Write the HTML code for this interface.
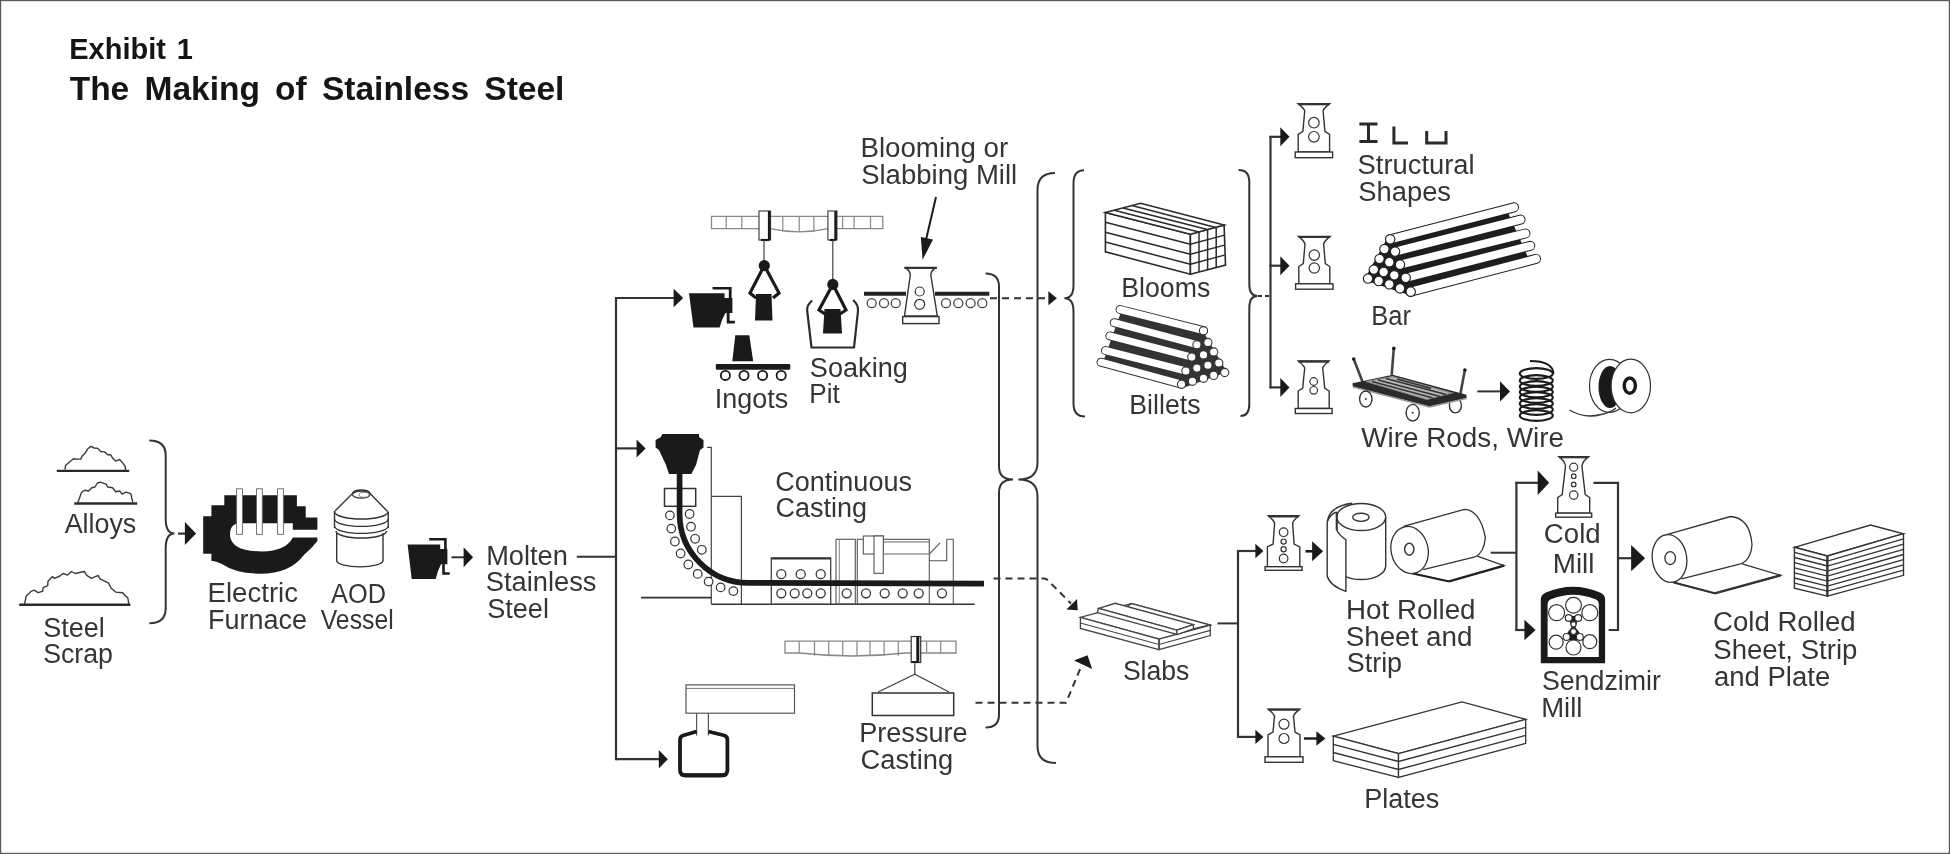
<!DOCTYPE html>
<html><head><meta charset="utf-8"><title>The Making of Stainless Steel</title>
<style>
html,body{margin:0;padding:0;background:#fff;}
svg{display:block;font-family:"Liberation Sans",sans-serif;filter:grayscale(1);}
</style></head>
<body>
<svg width="1950" height="854" viewBox="0 0 1950 854">
<rect x="0.5" y="0.5" width="1949" height="853" fill="#fff" stroke="#575b5d" stroke-width="1.4"/>
<text x="69.30" y="58.7" font-size="29.5" font-weight="bold" word-spacing="3" textLength="123.70" lengthAdjust="spacingAndGlyphs" fill="#151515">Exhibit 1</text>
<text x="69.70" y="99.6" font-size="34" font-weight="bold" word-spacing="6" textLength="494.70" lengthAdjust="spacingAndGlyphs" fill="#151515">The Making of Stainless Steel</text>
<path d="M65.1 469.5 L65.5 465.5 L68.7 462.7 L73.5 458.7 L77.5 459.1 L80.7 459.1 L82.3 455.9 L85.4 452.7 L87.8 448.8 L91 446.4 L94.2 448 L97.8 448.4 L100.6 451.5 L104.5 451.9 L107.7 454.7 L110.5 454.7 L112.5 457.9 L115.7 461.1 L119.7 459.5 L122.9 463.1 L125.2 466.3 L125.6 469.9" stroke="#3a3a3a" stroke-width="1.4" fill="none" stroke-linejoin="round"/>
<line x1="56.8" y1="470.9" x2="129.2" y2="470.9" stroke="#2a2a2a" stroke-width="2.4"/>
<path d="M77.9 502.5 L81.5 492.5 L84.6 490.2 L88.6 491 L91.8 487.8 L95 487 L97.4 483 L100.6 482.2 L103.8 483.4 L106.1 484.2 L107.7 487 L112.5 487.8 L115.7 491.8 L119.7 491 L122.1 494.1 L126 492.2 L130.8 493.7 L132 499 L132.8 502.1" stroke="#3a3a3a" stroke-width="1.4" fill="none" stroke-linejoin="round"/>
<line x1="74.3" y1="503.5" x2="137.2" y2="503.5" stroke="#2a2a2a" stroke-width="2.4"/>
<path d="M24.6 604.2 L26.2 595.9 L31 591.4 L34.2 590.1 L38.1 592.7 L42.6 591.4 L43.2 587.6 L47.7 585.6 L48 581.2 L52.2 576.7 L54.7 578.3 L59.9 576 L63.1 573.5 L67.6 575.1 L71.4 571.5 L75.3 573.5 L84.2 571.5 L86.8 575.4 L91.3 578.3 L98.3 575.4 L99.6 578.6 L108.6 583.1 L111.2 588.2 L115.6 592.1 L122.7 592.7 L125.3 595.9 L127.8 597.8 L128.8 604.2" stroke="#3a3a3a" stroke-width="1.4" fill="none" stroke-linejoin="round"/>
<line x1="19.2" y1="604.8" x2="130.4" y2="604.8" stroke="#2a2a2a" stroke-width="2.4"/>
<text x="64.66" y="532.6" font-size="26.8" textLength="71.60" lengthAdjust="spacingAndGlyphs" fill="#353535">Alloys</text>
<text x="43.15" y="637" font-size="26.8" textLength="61.55" lengthAdjust="spacingAndGlyphs" fill="#353535">Steel</text>
<text x="43.15" y="662.5" font-size="26.8" textLength="69.85" lengthAdjust="spacingAndGlyphs" fill="#353535">Scrap</text>
<path d="M149.4 440.5 Q165.7 440.5 165.7 455.5 L165.7 518.6 Q165.7 533.6 174.4 533.6 Q165.7 533.6 165.7 548.6 L165.7 608.2 Q165.7 623.2 149.4 623.2" stroke="#333" stroke-width="2" fill="none"/>
<line x1="178" y1="533.6" x2="185.5" y2="533.6" stroke="#333" stroke-width="2.2"/>
<polygon points="196.1,533.6 184.9,545.1 184.9,522.1" fill="#1a1a1a" stroke="none" stroke-width="0"/>
<path d="M224.3 495.2 H296.9 V506.3 H305.7 V517.5 H317.4 V529.8 H292.8 V523.3 H240 Q229.5 523.3 230 536 Q232 551.4 262 551.4 Q286 551 292.8 537.4 H317.4 V541 Q312 548 303.9 555 Q290 573.7 260.6 573.7 Q236 573.7 222 564 Q216 561 211.4 560.8 V553.8 H203.2 V516.3 H211.4 V505.2 H224.3 Z" fill="#1a1a1a"/>
<rect x="236.6" y="488.8" width="5.8" height="45.6" stroke="#666" stroke-width="0.9" fill="#fff"/>
<rect x="256.5" y="488.8" width="5.8" height="45.6" stroke="#666" stroke-width="0.9" fill="#fff"/>
<rect x="277.6" y="488.8" width="5.8" height="45.6" stroke="#666" stroke-width="0.9" fill="#fff"/>
<text x="207.60" y="602.2" font-size="26.8" textLength="90.40" lengthAdjust="spacingAndGlyphs" fill="#353535">Electric</text>
<text x="207.97" y="628.5" font-size="26.8" textLength="99.03" lengthAdjust="spacingAndGlyphs" fill="#353535">Furnace</text>
<path d="M336.7 533 V560.8 A23.2 6.5 0 0 0 383 560.8 V533" stroke="#333" stroke-width="1.4" fill="#fff"/>
<path d="M335 511 L352.5 493.5 A8.8 3.5 0 0 1 370.1 493.5 L387.5 511.5" stroke="#333" stroke-width="1.4" fill="#fff"/>
<path d="M334.5 511 V528 M388.2 511.5 V528" stroke="#333" stroke-width="1.4" fill="none"/>
<path d="M334.5 512 A26.9 7.5 0 0 0 388.2 512" stroke="#333" stroke-width="1.4" fill="#fff"/>
<path d="M334.5 519.3 A26.9 7.5 0 0 0 388.2 519.3" stroke="#333" stroke-width="1.4" fill="none"/>
<path d="M334.5 526.3 A26.9 7.5 0 0 0 388.2 526.3" stroke="#333" stroke-width="1.4" fill="none"/>
<path d="M336 531 A25.2 7 0 0 0 386.5 531" stroke="#333" stroke-width="1.4" fill="none"/>
<ellipse cx="361.3" cy="494.6" rx="8.8" ry="3.5" stroke="#333" stroke-width="1.2" fill="#fff"/>
<ellipse cx="364" cy="494.8" rx="5" ry="2.5" stroke="#666" stroke-width="0.8" fill="#fff"/>
<text x="331.07" y="602.5" font-size="26.8" textLength="54.93" lengthAdjust="spacingAndGlyphs" fill="#353535">AOD</text>
<text x="320.70" y="628.8" font-size="26.8" textLength="73.00" lengthAdjust="spacingAndGlyphs" fill="#353535">Vessel</text>
<g transform="translate(407.6 538) scale(1)">
<polygon points="0,6.4 32.6,6.4 32.6,11 39.8,11 39.8,26.3 33.4,26.3 30.4,33 28.1,41 4.1,41" fill="#1a1a1a" stroke="none" stroke-width="0"/>
<path d="M21.6 1.2 H37.8 V11" stroke="#1a1a1a" stroke-width="2.6" fill="none"/>
<path d="M35.9 26 V35.5 H42.1" stroke="#1a1a1a" stroke-width="2.6" fill="none"/>
</g>
<line x1="451.5" y1="557.3" x2="464.5" y2="557.3" stroke="#333" stroke-width="2"/>
<polygon points="473.1,557.3 463.6,567.3 463.6,547.3" fill="#1a1a1a" stroke="none" stroke-width="0"/>
<text x="486.23" y="564.5" font-size="26.8" textLength="81.58" lengthAdjust="spacingAndGlyphs" fill="#353535">Molten</text>
<text x="485.82" y="591.2" font-size="26.8" textLength="110.66" lengthAdjust="spacingAndGlyphs" fill="#353535">Stainless</text>
<text x="487.26" y="617.9" font-size="26.8" textLength="61.66" lengthAdjust="spacingAndGlyphs" fill="#353535">Steel</text>
<line x1="576.8" y1="556.7" x2="616.5" y2="556.7" stroke="#333" stroke-width="2"/>
<line x1="616" y1="297" x2="616" y2="760.2" stroke="#333" stroke-width="2.2"/>
<path d="M616 298 H674" stroke="#333" stroke-width="2.2" fill="none"/>
<polygon points="683.2,298 673.6,307.3 673.6,288.7" fill="#1a1a1a" stroke="none" stroke-width="0"/>
<path d="M616 448.4 H637" stroke="#333" stroke-width="2.2" fill="none"/>
<polygon points="645.6,448.4 636.6,457.4 636.6,439.4" fill="#1a1a1a" stroke="none" stroke-width="0"/>
<path d="M616 759.2 H659" stroke="#333" stroke-width="2.2" fill="none"/>
<polygon points="667.8,759.2 658.8,768.4 658.8,750" fill="#1a1a1a" stroke="none" stroke-width="0"/>
<g transform="translate(689 287) scale(1.09 0.99)">
<polygon points="0,6.4 32.6,6.4 32.6,11 39.8,11 39.8,26.3 33.4,26.3 30.4,33 28.1,41 4.1,41" fill="#1a1a1a" stroke="none" stroke-width="0"/>
<path d="M21.6 1.2 H37.8 V11" stroke="#1a1a1a" stroke-width="2.6" fill="none"/>
<path d="M35.9 26 V35.5 H42.1" stroke="#1a1a1a" stroke-width="2.6" fill="none"/>
</g>
<path d="M711.5 216.4 H882.8 V228.7 L828 228.7 Q799 235.1 770 228.7 L711.5 228.7 V216.4 Z" stroke="#888" stroke-width="1.3" fill="#fff"/>
<line x1="726.2" y1="216.4" x2="726.2" y2="228.7" stroke="#888" stroke-width="1.2"/>
<line x1="741.8" y1="216.4" x2="741.8" y2="228.7" stroke="#888" stroke-width="1.2"/>
<line x1="782.8" y1="216.4" x2="782.8" y2="231.6" stroke="#888" stroke-width="1.2"/>
<line x1="799.2" y1="216.4" x2="799.2" y2="231.6" stroke="#888" stroke-width="1.2"/>
<line x1="813.9" y1="216.4" x2="813.9" y2="231.6" stroke="#888" stroke-width="1.2"/>
<line x1="842.6" y1="216.4" x2="842.6" y2="228.7" stroke="#888" stroke-width="1.2"/>
<line x1="854.1" y1="216.4" x2="854.1" y2="228.7" stroke="#888" stroke-width="1.2"/>
<line x1="870.5" y1="216.4" x2="870.5" y2="228.7" stroke="#888" stroke-width="1.2"/>
<rect x="759" y="211" width="11.5" height="29" stroke="#444" stroke-width="1.2" fill="#fff"/>
<line x1="769.2" y1="211" x2="769.2" y2="240" stroke="#1a1a1a" stroke-width="2.6"/>
<line x1="761" y1="240" x2="769.2" y2="240" stroke="#1a1a1a" stroke-width="2.2"/>
<rect x="827.9" y="211" width="9" height="29" stroke="#444" stroke-width="1.2" fill="#fff"/>
<line x1="835.6" y1="211" x2="835.6" y2="240" stroke="#1a1a1a" stroke-width="2.6"/>
<line x1="829.9" y1="240" x2="835.6" y2="240" stroke="#1a1a1a" stroke-width="2.2"/>
<line x1="764" y1="240" x2="764" y2="262" stroke="#444" stroke-width="1.2"/>
<circle cx="764.3" cy="265.6" r="5.6" stroke="none" stroke-width="0" fill="#1a1a1a"/>
<path d="M764 266 L750 293 L756 298 M764.6 266 L779 293 L773 298" stroke="#1a1a1a" stroke-width="3.2" fill="none"/>
<polygon points="756,294 771.5,294 772.5,320.5 755,320.5" fill="#1a1a1a" stroke="none" stroke-width="0"/>
<line x1="832.8" y1="240" x2="832.8" y2="280" stroke="#444" stroke-width="1.2"/>
<circle cx="832.8" cy="284.4" r="5.6" stroke="none" stroke-width="0" fill="#1a1a1a"/>
<path d="M832.5 285 L819 310 L825 314 M833.2 285 L846 310 L840 314" stroke="#1a1a1a" stroke-width="3.2" fill="none"/>
<polygon points="824.5,309 840.5,309 842,333.6 823,333.6" fill="#1a1a1a" stroke="none" stroke-width="0"/>
<path d="M812.2 300.5 Q806.5 305 807.2 311 L811.5 347.5 H854 L858 311 Q858.6 305 853.1 300" stroke="#2a2a2a" stroke-width="2.2" fill="none"/>
<polygon points="735.3,335.3 749.3,335.3 753.2,361.2 732.3,361.2" fill="#1a1a1a" stroke="none" stroke-width="0"/>
<rect x="715.8" y="364.1" width="74.5" height="5.6" stroke="none" stroke-width="0" fill="#1a1a1a" rx="1.2"/>
<circle cx="725.4" cy="375.4" r="4.6" stroke="#1a1a1a" stroke-width="1.8" fill="#fff"/>
<circle cx="744" cy="375.4" r="4.6" stroke="#1a1a1a" stroke-width="1.8" fill="#fff"/>
<circle cx="762.6" cy="375.4" r="4.6" stroke="#1a1a1a" stroke-width="1.8" fill="#fff"/>
<circle cx="781.2" cy="375.4" r="4.6" stroke="#1a1a1a" stroke-width="1.8" fill="#fff"/>
<text x="714.71" y="407.5" font-size="26.8" textLength="73.40" lengthAdjust="spacingAndGlyphs" fill="#353535">Ingots</text>
<text x="809.89" y="376.8" font-size="26.8" textLength="97.92" lengthAdjust="spacingAndGlyphs" fill="#353535">Soaking</text>
<text x="809.23" y="402.5" font-size="26.8" textLength="30.48" lengthAdjust="spacingAndGlyphs" fill="#353535">Pit</text>
<text x="860.45" y="156.8" font-size="26.8" textLength="147.70" lengthAdjust="spacingAndGlyphs" fill="#353535">Blooming or</text>
<text x="861.15" y="184" font-size="26.8" textLength="156.07" lengthAdjust="spacingAndGlyphs" fill="#353535">Slabbing Mill</text>
<line x1="936" y1="197" x2="925.5" y2="242" stroke="#1a1a1a" stroke-width="2"/>
<polygon points="922.6,259.8 920.8,237 933,239.4" fill="#1a1a1a" stroke="none" stroke-width="0"/>
<line x1="864" y1="293.8" x2="906" y2="293.8" stroke="#222" stroke-width="4"/>
<line x1="935" y1="293.8" x2="989.3" y2="293.8" stroke="#222" stroke-width="4"/>
<circle cx="871.7" cy="303.2" r="4.5" stroke="#444" stroke-width="1.3" fill="#fff"/>
<circle cx="884" cy="303.2" r="4.5" stroke="#444" stroke-width="1.3" fill="#fff"/>
<circle cx="895.7" cy="303.2" r="4.5" stroke="#444" stroke-width="1.3" fill="#fff"/>
<circle cx="946" cy="303.2" r="4.5" stroke="#444" stroke-width="1.3" fill="#fff"/>
<circle cx="958.3" cy="303.2" r="4.5" stroke="#444" stroke-width="1.3" fill="#fff"/>
<circle cx="970.6" cy="303.2" r="4.5" stroke="#444" stroke-width="1.3" fill="#fff"/>
<circle cx="982.3" cy="303.2" r="4.5" stroke="#444" stroke-width="1.3" fill="#fff"/>
<path d="M904.5 267.5 H936.7 Q931 270 930.8 275 L937.3 316 H904.5 L910.3 275 Q910 270 904.5 267.5 Z" stroke="#333" stroke-width="1.4" fill="#fff"/>
<line x1="904.5" y1="268" x2="936.7" y2="268" stroke="#333" stroke-width="2.2"/>
<rect x="902.7" y="316.6" width="36.3" height="7" stroke="#333" stroke-width="1.4" fill="#fff"/>
<circle cx="919.7" cy="291.5" r="4.5" stroke="#333" stroke-width="1.2" fill="#fff"/>
<circle cx="919.7" cy="304.3" r="5" stroke="#333" stroke-width="1.2" fill="#fff"/>
<line x1="990" y1="298.2" x2="1048" y2="298.2" stroke="#333" stroke-width="2" stroke-dasharray="7 5"/>
<polygon points="1056.9,298.2 1048.4,305.2 1048.4,291.2" fill="#1a1a1a" stroke="none" stroke-width="0"/>
<path d="M985.6 273.4 Q999 273.4 999 286.4 L999 466.4 Q999 479.4 1013 479.4 Q999 479.4 999 492.4 L999 714.5 Q999 727.5 985.6 727.5" stroke="#333" stroke-width="2" fill="none"/>
<path d="M1055 173 Q1037.5 173 1037.5 190 L1037.5 462.4 Q1037.5 479.4 1018.4 479.4 Q1037.5 479.4 1037.5 496.4 L1037.5 746 Q1037.5 763 1056 763" stroke="#333" stroke-width="2" fill="none"/>
<path d="M1084 170.3 Q1073.5 170.3 1073.5 183.3 L1073.5 285.2 Q1073.5 298.2 1064.4 298.2 Q1073.5 298.2 1073.5 311.2 L1073.5 403.6 Q1073.5 416.6 1085 416.6" stroke="#333" stroke-width="2" fill="none"/>
<path d="M1238.6 170 Q1249.3 170 1249.3 182 L1249.3 284.1 Q1249.3 296.1 1257.5 296.1 Q1249.3 296.1 1249.3 308.1 L1249.3 404 Q1249.3 416 1240.5 416" stroke="#333" stroke-width="2" fill="none"/>
<line x1="1258" y1="296.1" x2="1270.4" y2="296.1" stroke="#333" stroke-width="2" stroke-dasharray="4 3"/>
<polygon points="1105.4,212.5 1190.4,234.2 1190.4,274.3 1105.4,251.8" fill="#fff" stroke="#2a2a2a" stroke-width="1.6"/>
<polygon points="1190.4,234.2 1224.1,225.1 1225.5,265.1 1190.4,274.3" fill="#fff" stroke="#2a2a2a" stroke-width="1.6"/>
<polygon points="1105.4,212.5 1140.6,203.3 1224.1,225.1 1190.4,234.2" fill="#fff" stroke="#2a2a2a" stroke-width="1.6"/>
<line x1="1105.4" y1="222.3" x2="1190.4" y2="244.2" stroke="#2a2a2a" stroke-width="1.5"/>
<line x1="1190.4" y1="244.2" x2="1224.5" y2="235.1" stroke="#2a2a2a" stroke-width="1.5"/>
<line x1="1199" y1="231.9" x2="1199" y2="272" stroke="#2a2a2a" stroke-width="1.5"/>
<line x1="1114.2" y1="210.2" x2="1198.9" y2="231.9" stroke="#2a2a2a" stroke-width="1.5"/>
<line x1="1105.4" y1="232.2" x2="1190.4" y2="254.3" stroke="#2a2a2a" stroke-width="1.5"/>
<line x1="1190.4" y1="254.3" x2="1224.5" y2="245.1" stroke="#2a2a2a" stroke-width="1.5"/>
<line x1="1207.6" y1="229.6" x2="1207.6" y2="269.7" stroke="#2a2a2a" stroke-width="1.5"/>
<line x1="1123" y1="207.9" x2="1207.3" y2="229.6" stroke="#2a2a2a" stroke-width="1.5"/>
<line x1="1105.4" y1="242" x2="1190.4" y2="264.3" stroke="#2a2a2a" stroke-width="1.5"/>
<line x1="1190.4" y1="264.3" x2="1224.5" y2="255.1" stroke="#2a2a2a" stroke-width="1.5"/>
<line x1="1216.2" y1="227.4" x2="1216.2" y2="267.4" stroke="#2a2a2a" stroke-width="1.5"/>
<line x1="1131.8" y1="205.6" x2="1215.8" y2="227.4" stroke="#2a2a2a" stroke-width="1.5"/>
<text x="1121.30" y="297.4" font-size="26.8" textLength="88.96" lengthAdjust="spacingAndGlyphs" fill="#353535">Blooms</text>
<polygon points="1121,312 1204,333 1227,372 1183,388 1102,365" fill="#333" stroke="none" stroke-width="0"/>
<line x1="1120" y1="309.5" x2="1203.5" y2="330.7" stroke="#333" stroke-width="9" stroke-linecap="round"/>
<line x1="1120" y1="309.5" x2="1203.5" y2="330.7" stroke="#fff" stroke-width="7" stroke-linecap="round"/>
<line x1="1114.2" y1="322.7" x2="1196.9" y2="344.7" stroke="#333" stroke-width="9" stroke-linecap="round"/>
<line x1="1114.2" y1="322.7" x2="1196.9" y2="344.7" stroke="#fff" stroke-width="7" stroke-linecap="round"/>
<line x1="1109.8" y1="335.9" x2="1191.8" y2="357.1" stroke="#333" stroke-width="9" stroke-linecap="round"/>
<line x1="1109.8" y1="335.9" x2="1191.8" y2="357.1" stroke="#fff" stroke-width="7" stroke-linecap="round"/>
<line x1="1105.4" y1="350.5" x2="1185.9" y2="371" stroke="#333" stroke-width="9" stroke-linecap="round"/>
<line x1="1105.4" y1="350.5" x2="1185.9" y2="371" stroke="#fff" stroke-width="7" stroke-linecap="round"/>
<line x1="1101" y1="362.2" x2="1181.5" y2="384.2" stroke="#333" stroke-width="9" stroke-linecap="round"/>
<line x1="1101" y1="362.2" x2="1181.5" y2="384.2" stroke="#fff" stroke-width="7" stroke-linecap="round"/>
<circle cx="1203.5" cy="330.7" r="4.1" stroke="#333" stroke-width="1.1" fill="#fff"/>
<circle cx="1196.9" cy="344.7" r="4.1" stroke="#333" stroke-width="1.1" fill="#fff"/>
<circle cx="1191.8" cy="357.1" r="4.1" stroke="#333" stroke-width="1.1" fill="#fff"/>
<circle cx="1185.9" cy="371" r="4.1" stroke="#333" stroke-width="1.1" fill="#fff"/>
<circle cx="1181.5" cy="384.2" r="4.1" stroke="#333" stroke-width="1.1" fill="#fff"/>
<circle cx="1207.9" cy="342.5" r="4.1" stroke="#333" stroke-width="1.1" fill="#fff"/>
<circle cx="1203.5" cy="354.9" r="4.1" stroke="#333" stroke-width="1.1" fill="#fff"/>
<circle cx="1196.9" cy="368.1" r="4.1" stroke="#333" stroke-width="1.1" fill="#fff"/>
<circle cx="1192.5" cy="381.3" r="4.1" stroke="#333" stroke-width="1.1" fill="#fff"/>
<circle cx="1213.7" cy="352" r="4.1" stroke="#333" stroke-width="1.1" fill="#fff"/>
<circle cx="1207.9" cy="365.2" r="4.1" stroke="#333" stroke-width="1.1" fill="#fff"/>
<circle cx="1203.5" cy="378.3" r="4.1" stroke="#333" stroke-width="1.1" fill="#fff"/>
<circle cx="1218.8" cy="363" r="4.1" stroke="#333" stroke-width="1.1" fill="#fff"/>
<circle cx="1213.7" cy="375.4" r="4.1" stroke="#333" stroke-width="1.1" fill="#fff"/>
<circle cx="1224.7" cy="372.5" r="4.1" stroke="#333" stroke-width="1.1" fill="#fff"/>
<text x="1129.30" y="414.2" font-size="26.8" textLength="71.22" lengthAdjust="spacingAndGlyphs" fill="#353535">Billets</text>
<line x1="1270.5" y1="136" x2="1270.5" y2="388.3" stroke="#333" stroke-width="2.2"/>
<line x1="1269.5" y1="136.8" x2="1281" y2="136.8" stroke="#333" stroke-width="2.2"/>
<polygon points="1289.5,136.8 1280.3,146.3 1280.3,127.3" fill="#1a1a1a" stroke="none" stroke-width="0"/>
<line x1="1269.5" y1="265.7" x2="1281" y2="265.7" stroke="#333" stroke-width="2.2"/>
<polygon points="1289.5,265.7 1280.3,275.2 1280.3,256.2" fill="#1a1a1a" stroke="none" stroke-width="0"/>
<line x1="1269.5" y1="387.4" x2="1281" y2="387.4" stroke="#333" stroke-width="2.2"/>
<polygon points="1289.5,387.4 1280.3,396.9 1280.3,377.9" fill="#1a1a1a" stroke="none" stroke-width="0"/>
<path d="M1298.2 103.6 H1329.6 Q1323.9 108.1 1323.1 111 L1324.9 131.3 L1329.6 134.3 V152 H1298.2 V134.3 L1302.9 131.3 L1304.7 111 Q1303.9 108.1 1298.2 103.6 Z" stroke="#333" stroke-width="1.4" fill="#fff"/>
<line x1="1298.2" y1="104.2" x2="1329.6" y2="104.2" stroke="#333" stroke-width="2.2"/>
<rect x="1295.2" y="152" width="37.4" height="5.7" stroke="#333" stroke-width="1.4" fill="#fff"/>
<circle cx="1313.9" cy="122.7" r="5.3" stroke="#333" stroke-width="1.2" fill="#fff"/>
<circle cx="1313.9" cy="136.8" r="5.3" stroke="#333" stroke-width="1.2" fill="#fff"/>
<path d="M1298.5 236.4 H1330.1 Q1324.4 240.9 1323.6 244 L1325.3 263.5 L1329.8 266.5 V283.8 H1298.8 V266.5 L1303.3 263.5 L1305 244 Q1304.2 240.9 1298.5 236.4 Z" stroke="#333" stroke-width="1.4" fill="#fff"/>
<line x1="1298.5" y1="237" x2="1330.1" y2="237" stroke="#333" stroke-width="2.2"/>
<rect x="1295.6" y="283.8" width="37.4" height="5.4" stroke="#333" stroke-width="1.4" fill="#fff"/>
<circle cx="1314.3" cy="255.1" r="5.2" stroke="#333" stroke-width="1.2" fill="#fff"/>
<circle cx="1314.3" cy="268" r="5.2" stroke="#333" stroke-width="1.2" fill="#fff"/>
<path d="M1298.4 361 H1329 Q1323.5 365.5 1322.7 368 L1324.7 388 L1329.2 391 V408.5 H1298.2 V391 L1302.7 388 L1304.7 368 Q1303.9 365.5 1298.4 361 Z" stroke="#333" stroke-width="1.4" fill="#fff"/>
<line x1="1298.4" y1="361.6" x2="1329" y2="361.6" stroke="#333" stroke-width="2.2"/>
<rect x="1295.3" y="408.5" width="36.8" height="5" stroke="#333" stroke-width="1.4" fill="#fff"/>
<circle cx="1313.7" cy="381.5" r="3.8" stroke="#333" stroke-width="1.2" fill="#fff"/>
<circle cx="1313.7" cy="390.3" r="3.8" stroke="#333" stroke-width="1.2" fill="#fff"/>
<path d="M1359.4 124 H1377.5 M1368.5 124 V141.6 M1359.4 141.6 H1377.5" stroke="#2a2a2a" stroke-width="3" fill="none"/>
<path d="M1393.9 126.4 V143 H1408" stroke="#2a2a2a" stroke-width="3" fill="none"/>
<path d="M1426.7 131 V143 H1446 V131" stroke="#2a2a2a" stroke-width="3" fill="none"/>
<text x="1357.56" y="173.8" font-size="26.8" textLength="117.10" lengthAdjust="spacingAndGlyphs" fill="#353535">Structural</text>
<text x="1358.30" y="200.7" font-size="26.8" textLength="92.70" lengthAdjust="spacingAndGlyphs" fill="#353535">Shapes</text>
<polygon points="1364,280 1389,235 1505,206 1528,257 1412,296" fill="#1e1e1e" stroke="none" stroke-width="0"/>
<line x1="1390.2" y1="239.3" x2="1514" y2="207.3" stroke="#1e1e1e" stroke-width="10" stroke-linecap="round"/>
<line x1="1390.2" y1="239.3" x2="1514" y2="207.3" stroke="#fff" stroke-width="8" stroke-linecap="round"/>
<line x1="1395.1" y1="251.6" x2="1520.5" y2="219.6" stroke="#1e1e1e" stroke-width="10" stroke-linecap="round"/>
<line x1="1395.1" y1="251.6" x2="1520.5" y2="219.6" stroke="#fff" stroke-width="8" stroke-linecap="round"/>
<line x1="1400" y1="264.7" x2="1525.4" y2="233.5" stroke="#1e1e1e" stroke-width="10" stroke-linecap="round"/>
<line x1="1400" y1="264.7" x2="1525.4" y2="233.5" stroke="#fff" stroke-width="8" stroke-linecap="round"/>
<line x1="1405.7" y1="277.8" x2="1530.3" y2="245.8" stroke="#1e1e1e" stroke-width="10" stroke-linecap="round"/>
<line x1="1405.7" y1="277.8" x2="1530.3" y2="245.8" stroke="#fff" stroke-width="8" stroke-linecap="round"/>
<line x1="1410.7" y1="291.7" x2="1536" y2="258.9" stroke="#1e1e1e" stroke-width="10" stroke-linecap="round"/>
<line x1="1410.7" y1="291.7" x2="1536" y2="258.9" stroke="#fff" stroke-width="8" stroke-linecap="round"/>
<circle cx="1390.2" cy="239.3" r="4.7" stroke="#1e1e1e" stroke-width="1.1" fill="#fff"/>
<circle cx="1395.1" cy="251.6" r="4.7" stroke="#1e1e1e" stroke-width="1.1" fill="#fff"/>
<circle cx="1400" cy="264.7" r="4.7" stroke="#1e1e1e" stroke-width="1.1" fill="#fff"/>
<circle cx="1405.7" cy="277.8" r="4.7" stroke="#1e1e1e" stroke-width="1.1" fill="#fff"/>
<circle cx="1410.7" cy="291.7" r="4.7" stroke="#1e1e1e" stroke-width="1.1" fill="#fff"/>
<circle cx="1384.4" cy="249.1" r="4.7" stroke="#1e1e1e" stroke-width="1.1" fill="#fff"/>
<circle cx="1389.3" cy="262.2" r="4.7" stroke="#1e1e1e" stroke-width="1.1" fill="#fff"/>
<circle cx="1394.3" cy="275.3" r="4.7" stroke="#1e1e1e" stroke-width="1.1" fill="#fff"/>
<circle cx="1400" cy="288.4" r="4.7" stroke="#1e1e1e" stroke-width="1.1" fill="#fff"/>
<circle cx="1379.5" cy="258.9" r="4.7" stroke="#1e1e1e" stroke-width="1.1" fill="#fff"/>
<circle cx="1383.6" cy="272" r="4.7" stroke="#1e1e1e" stroke-width="1.1" fill="#fff"/>
<circle cx="1389.3" cy="284.3" r="4.7" stroke="#1e1e1e" stroke-width="1.1" fill="#fff"/>
<circle cx="1373.8" cy="269.6" r="4.7" stroke="#1e1e1e" stroke-width="1.1" fill="#fff"/>
<circle cx="1378.7" cy="281" r="4.7" stroke="#1e1e1e" stroke-width="1.1" fill="#fff"/>
<circle cx="1368" cy="278.6" r="4.7" stroke="#1e1e1e" stroke-width="1.1" fill="#fff"/>
<text x="1371.30" y="324.5" font-size="26.8" textLength="39.74" lengthAdjust="spacingAndGlyphs" fill="#353535">Bar</text>
<line x1="1353.7" y1="359" x2="1362.7" y2="382.2" stroke="#444" stroke-width="2.6"/>
<line x1="1393.8" y1="348.4" x2="1391.7" y2="374.8" stroke="#444" stroke-width="2.6"/>
<line x1="1464.9" y1="370" x2="1460.2" y2="394.8" stroke="#444" stroke-width="2.6"/>
<circle cx="1353.7" cy="359" r="1.8" stroke="none" stroke-width="0" fill="#1a1a1a"/>
<circle cx="1393.8" cy="348.4" r="1.8" stroke="none" stroke-width="0" fill="#1a1a1a"/>
<circle cx="1464.9" cy="370" r="1.8" stroke="none" stroke-width="0" fill="#1a1a1a"/>
<ellipse cx="1455.4" cy="405.4" rx="6" ry="7.5" stroke="#333" stroke-width="1.4" fill="#fff"/>
<polygon points="1352.6,383.2 1392.7,374.8 1466.5,394.8 1466.5,398 1429.6,406.4 1352.6,386.4" fill="#2a2a2a" stroke="none" stroke-width="0"/>
<path d="M1366 381.5 L1392.5 376.5 L1452 393 L1427 399.5 Z" stroke="#888" stroke-width="1.2" fill="#b5b5b5"/>
<path d="M1378 380 L1440 396.5 M1386 378.5 L1446 394.5 M1397 379 L1431 388.5 M1372 381.5 L1433 398" stroke="#333" stroke-width="1.4" fill="none"/>
<path d="M1353 387 L1429.6 407 L1466.5 398.5" stroke="#999" stroke-width="1.4" fill="none"/>
<ellipse cx="1365.8" cy="399" rx="6.2" ry="8" stroke="#333" stroke-width="1.4" fill="#fff"/>
<ellipse cx="1412.7" cy="412.7" rx="6.6" ry="8.3" stroke="#333" stroke-width="1.4" fill="#fff"/>
<circle cx="1365.8" cy="399" r="1" stroke="none" stroke-width="0" fill="#333"/>
<circle cx="1412.7" cy="412.7" r="1" stroke="none" stroke-width="0" fill="#333"/>
<line x1="1477.3" y1="391.4" x2="1500.5" y2="391.4" stroke="#333" stroke-width="2"/>
<polygon points="1510,391.4 1500,401.6 1500,381.2" fill="#1a1a1a" stroke="none" stroke-width="0"/>
<path d="M1530 361 Q1553 361 1553.5 374" stroke="#1a1a1a" stroke-width="1.8" fill="none"/>
<ellipse cx="1536.3" cy="373.5" rx="16.5" ry="5.4" stroke="#1a1a1a" stroke-width="2.1" fill="none"/>
<ellipse cx="1536.3" cy="380.5" rx="16.5" ry="5.4" stroke="#1a1a1a" stroke-width="2.1" fill="none"/>
<ellipse cx="1536.3" cy="386.5" rx="16.5" ry="5.4" stroke="#1a1a1a" stroke-width="2.1" fill="none"/>
<ellipse cx="1536.3" cy="392" rx="16.5" ry="5.4" stroke="#1a1a1a" stroke-width="2.1" fill="none"/>
<ellipse cx="1536.3" cy="397.5" rx="16.5" ry="5.4" stroke="#1a1a1a" stroke-width="2.1" fill="none"/>
<ellipse cx="1536.3" cy="403.5" rx="16.5" ry="5.4" stroke="#1a1a1a" stroke-width="2.1" fill="none"/>
<ellipse cx="1536.3" cy="409.5" rx="16.5" ry="5.4" stroke="#1a1a1a" stroke-width="2.1" fill="none"/>
<ellipse cx="1536.3" cy="415.5" rx="16.5" ry="5.4" stroke="#1a1a1a" stroke-width="2.1" fill="none"/>
<ellipse cx="1609.5" cy="385.8" rx="20" ry="26.5" stroke="#333" stroke-width="1.2" fill="#fff"/>
<ellipse cx="1610" cy="387" rx="11.5" ry="21" stroke="none" stroke-width="0" fill="#1a1a1a"/>
<ellipse cx="1630.8" cy="386" rx="19.7" ry="26.8" stroke="#333" stroke-width="1.2" fill="#fff"/>
<ellipse cx="1629.8" cy="385.6" rx="5.6" ry="7.6" stroke="#1a1a1a" stroke-width="3.4" fill="none"/>
<path d="M1569.4 410 Q1585 419 1601 414.5 Q1611 412.5 1616 408" stroke="#333" stroke-width="1.4" fill="none"/>
<text x="1361.18" y="446.5" font-size="26.8" textLength="202.93" lengthAdjust="spacingAndGlyphs" fill="#353535">Wire Rods, Wire</text>
<text x="775.26" y="491.4" font-size="26.8" textLength="136.74" lengthAdjust="spacingAndGlyphs" fill="#353535">Continuous</text>
<text x="775.52" y="517.2" font-size="26.8" textLength="91.44" lengthAdjust="spacingAndGlyphs" fill="#353535">Casting</text>
<path d="M707 447.3 H711.3 V604.3" stroke="#444" stroke-width="1.2" fill="none"/>
<path d="M711.3 496.3 H741.4 V604" stroke="#444" stroke-width="1.2" fill="none"/>
<line x1="641" y1="597.6" x2="711.3" y2="597.6" stroke="#333" stroke-width="1.6"/>
<line x1="711.3" y1="604.3" x2="974.7" y2="604.3" stroke="#333" stroke-width="1.6"/>
<rect x="771.3" y="558" width="59.4" height="46" stroke="#444" stroke-width="1.3" fill="#fff"/>
<line x1="771.3" y1="558.5" x2="830.7" y2="558.5" stroke="#333" stroke-width="2"/>
<rect x="836" y="539.3" width="19.3" height="64.7" stroke="#555" stroke-width="1.1" fill="none"/>
<line x1="839.3" y1="539.3" x2="839.3" y2="604" stroke="#777" stroke-width="0.9"/>
<rect x="857.3" y="539.3" width="72" height="64.7" stroke="#555" stroke-width="1.1" fill="none"/>
<line x1="953.3" y1="539.3" x2="953.3" y2="604" stroke="#555" stroke-width="1.1"/>
<path d="M946.7 539.3 H953.3 M946.7 539.3 V560.7 H929.3" stroke="#555" stroke-width="1.1" fill="none"/>
<rect x="863.3" y="536" width="20" height="18" stroke="#555" stroke-width="1.1" fill="#fff"/>
<rect x="874" y="536" width="9.3" height="37.3" stroke="#555" stroke-width="1.1" fill="#fff"/>
<line x1="883.3" y1="542" x2="929.3" y2="542" stroke="#666" stroke-width="1.1"/>
<line x1="883.3" y1="554" x2="929.3" y2="554" stroke="#666" stroke-width="1.1"/>
<line x1="929.3" y1="554" x2="940" y2="543" stroke="#666" stroke-width="1.1"/>
<circle cx="781.3" cy="593.3" r="4.5" stroke="#333" stroke-width="1.3" fill="#fff"/>
<circle cx="794.7" cy="593.3" r="4.5" stroke="#333" stroke-width="1.3" fill="#fff"/>
<circle cx="807.3" cy="593.3" r="4.5" stroke="#333" stroke-width="1.3" fill="#fff"/>
<circle cx="820.7" cy="593.3" r="4.5" stroke="#333" stroke-width="1.3" fill="#fff"/>
<circle cx="846.7" cy="593.3" r="4.5" stroke="#333" stroke-width="1.3" fill="#fff"/>
<circle cx="866" cy="593.3" r="4.5" stroke="#333" stroke-width="1.3" fill="#fff"/>
<circle cx="884.7" cy="593.3" r="4.5" stroke="#333" stroke-width="1.3" fill="#fff"/>
<circle cx="902.7" cy="593.3" r="4.5" stroke="#333" stroke-width="1.3" fill="#fff"/>
<circle cx="918.7" cy="593.3" r="4.5" stroke="#333" stroke-width="1.3" fill="#fff"/>
<circle cx="942" cy="593.3" r="4.5" stroke="#333" stroke-width="1.3" fill="#fff"/>
<circle cx="781.3" cy="574.2" r="4.5" stroke="#333" stroke-width="1.3" fill="#fff"/>
<circle cx="800.7" cy="574.2" r="4.5" stroke="#333" stroke-width="1.3" fill="#fff"/>
<circle cx="820.7" cy="574.2" r="4.5" stroke="#333" stroke-width="1.3" fill="#fff"/>
<circle cx="669.9" cy="515.4" r="4.3" stroke="#333" stroke-width="1.2" fill="#fff"/>
<circle cx="671.3" cy="528.6" r="4.3" stroke="#333" stroke-width="1.2" fill="#fff"/>
<circle cx="674.9" cy="541.5" r="4.3" stroke="#333" stroke-width="1.2" fill="#fff"/>
<circle cx="680.6" cy="553.5" r="4.3" stroke="#333" stroke-width="1.2" fill="#fff"/>
<circle cx="688.3" cy="564.5" r="4.3" stroke="#333" stroke-width="1.2" fill="#fff"/>
<circle cx="697.7" cy="573.9" r="4.3" stroke="#333" stroke-width="1.2" fill="#fff"/>
<circle cx="708.6" cy="581.6" r="4.3" stroke="#333" stroke-width="1.2" fill="#fff"/>
<circle cx="720.6" cy="587.4" r="4.3" stroke="#333" stroke-width="1.2" fill="#fff"/>
<circle cx="733.4" cy="591.1" r="4.3" stroke="#333" stroke-width="1.2" fill="#fff"/>
<circle cx="689.6" cy="514" r="4.3" stroke="#333" stroke-width="1.2" fill="#fff"/>
<circle cx="691" cy="526.7" r="4.3" stroke="#333" stroke-width="1.2" fill="#fff"/>
<circle cx="695.1" cy="538.8" r="4.3" stroke="#333" stroke-width="1.2" fill="#fff"/>
<circle cx="701.8" cy="549.8" r="4.3" stroke="#333" stroke-width="1.2" fill="#fff"/>
<rect x="664.5" y="488.5" width="31.2" height="17.8" stroke="#333" stroke-width="1.5" fill="#fff"/>
<path d="M679.6 470 V514 A68.8 68.8 0 0 0 748.4 582.8 L984 583.7" stroke="#1a1a1a" stroke-width="5.7" fill="none"/>
<polygon points="662.3,433.9 699,433.9 699,437 703.5,440 703.5,447.5 700,450 696,465 691.3,474 669,474 666,465 659,450 655.6,447.5 655.6,440 661,437" fill="#1a1a1a" stroke="none" stroke-width="0"/>
<path d="M785 641.2 H956 V653 L905 653 Q852.5 659 800 653 L785 653 V641.2 Z" stroke="#888" stroke-width="1.3" fill="#fff"/>
<line x1="799.2" y1="641.2" x2="799.2" y2="653" stroke="#888" stroke-width="1.2"/>
<line x1="814.5" y1="641.2" x2="814.5" y2="655.7" stroke="#888" stroke-width="1.2"/>
<line x1="828.7" y1="641.2" x2="828.7" y2="655.7" stroke="#888" stroke-width="1.2"/>
<line x1="842.8" y1="641.2" x2="842.8" y2="655.7" stroke="#888" stroke-width="1.2"/>
<line x1="857" y1="641.2" x2="857" y2="655.7" stroke="#888" stroke-width="1.2"/>
<line x1="870" y1="641.2" x2="870" y2="655.7" stroke="#888" stroke-width="1.2"/>
<line x1="884.1" y1="641.2" x2="884.1" y2="655.7" stroke="#888" stroke-width="1.2"/>
<line x1="898.3" y1="641.2" x2="898.3" y2="655.7" stroke="#888" stroke-width="1.2"/>
<line x1="926.6" y1="641.2" x2="926.6" y2="653" stroke="#888" stroke-width="1.2"/>
<line x1="940.7" y1="641.2" x2="940.7" y2="653" stroke="#888" stroke-width="1.2"/>
<rect x="911.2" y="636.5" width="9.5" height="26" stroke="#333" stroke-width="1.2" fill="#fff"/>
<line x1="917.8" y1="636.5" x2="917.8" y2="662.5" stroke="#1a1a1a" stroke-width="3"/>
<line x1="911.5" y1="662" x2="918" y2="662" stroke="#1a1a1a" stroke-width="2"/>
<line x1="914.8" y1="662" x2="914.8" y2="674.2" stroke="#444" stroke-width="1.2"/>
<path d="M878.2 692 L914.8 674.2 L949 692" stroke="#444" stroke-width="1.3" fill="none"/>
<rect x="872.3" y="693" width="81.4" height="22.5" stroke="#333" stroke-width="1.5" fill="#fff"/>
<text x="859.23" y="741.5" font-size="26.8" textLength="108.40" lengthAdjust="spacingAndGlyphs" fill="#353535">Pressure</text>
<text x="860.63" y="768.6" font-size="26.8" textLength="92.44" lengthAdjust="spacingAndGlyphs" fill="#353535">Casting</text>
<rect x="686" y="684.9" width="108.5" height="28.3" stroke="#555" stroke-width="1.2" fill="#fff"/>
<line x1="686" y1="688.4" x2="794.5" y2="688.4" stroke="#777" stroke-width="1"/>
<path d="M696.6 713.2 V735.6 M708.4 713.2 V735.6" stroke="#555" stroke-width="1.2" fill="none"/>
<path d="M696.6 731.5 L683 735.5 Q680 736.5 680 740 V770 Q680 775.5 686 775.5 H721.4 Q727.4 775.5 727.4 770 V740 Q727.4 736.5 724.5 735.5 L708.4 731.5" stroke="#1a1a1a" stroke-width="3.8" fill="none"/>
<line x1="682" y1="775" x2="726" y2="775" stroke="#1a1a1a" stroke-width="3.5"/>
<path d="M993.5 578.4 H1044 Q1047 578.6 1049.5 582 L1071 603.5" stroke="#333" stroke-width="2" fill="none" stroke-dasharray="7 5"/>
<polygon points="1077.7,610.2 1066.4,609.5 1077,598.9" fill="#1a1a1a" stroke="none" stroke-width="0"/>
<path d="M975.5 702.8 H1066 L1081 667" stroke="#333" stroke-width="2" fill="none" stroke-dasharray="7 5"/>
<polygon points="1087.5,655.2 1092.2,668.9 1074,660.6" fill="#1a1a1a" stroke="none" stroke-width="0"/>
<polygon points="1080.4,617.3 1131.7,603.4 1210.3,625.2 1159,639.1" fill="#fff" stroke="#444" stroke-width="1.3"/>
<polygon points="1080.4,617.3 1159,639.1 1159,649.6 1080.4,628.4" fill="#fff" stroke="#444" stroke-width="1.3"/>
<polygon points="1159,639.1 1210.3,625.2 1210.3,635.6 1159,649.6" fill="#fff" stroke="#444" stroke-width="1.3"/>
<path d="M1080.4 623 L1159 644.5 L1210.3 630.4" stroke="#444" stroke-width="1.2" fill="none"/>
<line x1="1159" y1="639.1" x2="1159" y2="649.6" stroke="#555" stroke-width="2"/>
<polygon points="1126.7,606.5 1131.7,603.6 1209.5,624.8 1194.2,628.7" fill="#fff" stroke="#444" stroke-width="1.3"/>
<polygon points="1098.7,608.3 1115.2,603.3 1193.4,624.6 1176.9,630.2" fill="#fff" stroke="#444" stroke-width="1.3"/>
<polygon points="1097.3,612.6 1098.7,608.3 1176.9,630.2 1176.9,634.5" fill="#fff" stroke="#444" stroke-width="1.3"/>
<polygon points="1176.9,630.2 1193.4,624.6 1193.4,628.8 1176.9,634.5" fill="#fff" stroke="#444" stroke-width="1.3"/>
<text x="1122.89" y="679.6" font-size="26.8" textLength="66.52" lengthAdjust="spacingAndGlyphs" fill="#353535">Slabs</text>
<line x1="1217.5" y1="623.4" x2="1238" y2="623.4" stroke="#333" stroke-width="2"/>
<line x1="1238" y1="550" x2="1238" y2="738" stroke="#333" stroke-width="2.2"/>
<line x1="1237" y1="551" x2="1256.5" y2="551" stroke="#333" stroke-width="2.2"/>
<polygon points="1263.4,551 1255.4,558.2 1255.4,543.8" fill="#1a1a1a" stroke="none" stroke-width="0"/>
<line x1="1237" y1="736.9" x2="1256.5" y2="736.9" stroke="#333" stroke-width="2.2"/>
<polygon points="1263.4,736.9 1255.4,744.1 1255.4,729.7" fill="#1a1a1a" stroke="none" stroke-width="0"/>
<path d="M1268.4 515.8 H1298.8 Q1293.4 520.3 1292.6 523 L1294.1 544 L1299.8 547 V566.7 H1267.4 V547 L1273.1 544 L1274.6 523 Q1273.8 520.3 1268.4 515.8 Z" stroke="#333" stroke-width="1.4" fill="#fff"/>
<line x1="1268.4" y1="516.4" x2="1298.8" y2="516.4" stroke="#333" stroke-width="2.2"/>
<rect x="1265.1" y="566.7" width="37" height="3.6" stroke="#333" stroke-width="1.4" fill="#fff"/>
<circle cx="1283.6" cy="532.2" r="4.3" stroke="#333" stroke-width="1.2" fill="#fff"/>
<circle cx="1283.6" cy="541.6" r="2.6" stroke="#333" stroke-width="1.2" fill="#fff"/>
<circle cx="1283.6" cy="549.2" r="2.6" stroke="#333" stroke-width="1.2" fill="#fff"/>
<circle cx="1283.6" cy="558.5" r="4.3" stroke="#333" stroke-width="1.2" fill="#fff"/>
<path d="M1268.3 709.1 H1299.7 Q1294.3 713.6 1293.5 716 L1295 732 L1300 735 V756.8 H1268 V735 L1273 732 L1274.5 716 Q1273.7 713.6 1268.3 709.1 Z" stroke="#333" stroke-width="1.4" fill="#fff"/>
<line x1="1268.3" y1="709.7" x2="1299.7" y2="709.7" stroke="#333" stroke-width="2.2"/>
<rect x="1265" y="756.8" width="38" height="5.5" stroke="#333" stroke-width="1.4" fill="#fff"/>
<circle cx="1284" cy="724.2" r="5" stroke="#333" stroke-width="1.2" fill="#fff"/>
<circle cx="1284" cy="738.5" r="5" stroke="#333" stroke-width="1.2" fill="#fff"/>
<line x1="1305.5" y1="551.3" x2="1313" y2="551.3" stroke="#1a1a1a" stroke-width="2.6"/>
<polygon points="1323.1,551.3 1312.1,561.3 1312.1,541.3" fill="#1a1a1a" stroke="none" stroke-width="0"/>
<line x1="1303.9" y1="738.5" x2="1317" y2="738.5" stroke="#1a1a1a" stroke-width="2.4"/>
<polygon points="1325.4,738.5 1316.4,745.7 1316.4,731.3" fill="#1a1a1a" stroke="none" stroke-width="0"/>
<path d="M1336.7 517 V566 A24.5 13.5 0 0 0 1385.7 566 V517" stroke="#333" stroke-width="1.4" fill="#fff"/>
<ellipse cx="1361.2" cy="517" rx="24.5" ry="13.5" stroke="#333" stroke-width="1.4" fill="#fff"/>
<ellipse cx="1360.9" cy="517.3" rx="8.2" ry="4.1" stroke="#333" stroke-width="1.4" fill="#fff"/>
<path d="M1336.7 512 Q1330 514 1327.2 522 V576 Q1330 586 1345.9 591.3 V539.8 Q1339 535 1336.7 530" stroke="#333" stroke-width="1.4" fill="#fff"/>
<path d="M1336.7 512 V530" stroke="#333" stroke-width="2" fill="none"/>
<path d="M1327.4 521 Q1330 506 1352 503.2" stroke="#333" stroke-width="1.4" fill="none"/>
<path d="M1411.6 573.2 L1449.1 581.4 L1504.1 565.6 L1477.2 556.2" stroke="#333" stroke-width="1.3" fill="#fff"/>
<line x1="1449.1" y1="581.4" x2="1504.1" y2="565.6" stroke="#222" stroke-width="2.4"/>
<line x1="1411.6" y1="573.2" x2="1449.1" y2="581.4" stroke="#222" stroke-width="2"/>
<path d="M1403.4 526.3 L1464.3 509.4 Q1480 510 1485.4 537.5 Q1484 553 1475 557 L1423.3 569.7" stroke="#333" stroke-width="1.3" fill="#fff"/>
<ellipse cx="1409.6" cy="550" rx="18.5" ry="23.7" stroke="#333" stroke-width="1.3" fill="#fff" transform="rotate(-12 1409.6 550)"/>
<ellipse cx="1409.3" cy="549.2" rx="4.6" ry="6" stroke="#333" stroke-width="1.4" fill="none"/>
<text x="1346.08" y="618.7" font-size="26.8" textLength="129.47" lengthAdjust="spacingAndGlyphs" fill="#353535">Hot Rolled</text>
<text x="1345.67" y="645.6" font-size="26.8" textLength="126.77" lengthAdjust="spacingAndGlyphs" fill="#353535">Sheet and</text>
<text x="1346.78" y="672" font-size="26.8" textLength="55.33" lengthAdjust="spacingAndGlyphs" fill="#353535">Strip</text>
<polygon points="1333.3,736.1 1462.1,701.9 1525.7,719.4 1398.5,753.6" fill="#fff" stroke="#333" stroke-width="1.3"/>
<polygon points="1333.3,736.1 1398.5,753.6 1398.5,777.4 1333.3,760.7" fill="#fff" stroke="#333" stroke-width="1.3"/>
<polygon points="1398.5,753.6 1525.7,719.4 1525.7,743.3 1398.5,777.4" fill="#fff" stroke="#333" stroke-width="1.3"/>
<path d="M1333.3 744.3 L1398.5 761.5 L1525.7 727.4" stroke="#333" stroke-width="1.3" fill="none"/>
<path d="M1333.3 752.5 L1398.5 769.5 L1525.7 735.3" stroke="#333" stroke-width="1.3" fill="none"/>
<text x="1364.23" y="808.4" font-size="26.8" textLength="75.14" lengthAdjust="spacingAndGlyphs" fill="#353535">Plates</text>
<line x1="1490.7" y1="552.7" x2="1516.4" y2="552.7" stroke="#333" stroke-width="2"/>
<line x1="1516.4" y1="481.8" x2="1516.4" y2="631" stroke="#333" stroke-width="2.2"/>
<line x1="1515.4" y1="482.8" x2="1538.5" y2="482.8" stroke="#333" stroke-width="2.2"/>
<polygon points="1549.2,482.8 1537.7,495.1 1537.7,470.5" fill="#1a1a1a" stroke="none" stroke-width="0"/>
<line x1="1515.4" y1="630" x2="1525" y2="630" stroke="#333" stroke-width="2.2"/>
<polygon points="1535.6,630 1524.4,640.3 1524.4,619.7" fill="#1a1a1a" stroke="none" stroke-width="0"/>
<path d="M1593.4 482.8 H1618 V630 H1608.7" stroke="#333" stroke-width="2.2" fill="none"/>
<line x1="1617" y1="558.2" x2="1631.5" y2="558.2" stroke="#333" stroke-width="2.2"/>
<polygon points="1645.1,558.2 1631.1,571.3 1631.1,545.1" fill="#1a1a1a" stroke="none" stroke-width="0"/>
<path d="M1559 456.6 H1588.5 Q1582.7 461.1 1581.9 466 L1585.2 494.5 L1589.7 497.5 V513.1 H1557.7 V497.5 L1562.2 494.5 L1565.5 466 Q1564.7 461.1 1559 456.6 Z" stroke="#333" stroke-width="1.4" fill="#fff"/>
<line x1="1559" y1="457.2" x2="1588.5" y2="457.2" stroke="#333" stroke-width="2.2"/>
<rect x="1555.7" y="513.1" width="36" height="4.1" stroke="#333" stroke-width="1.4" fill="#fff"/>
<circle cx="1573.7" cy="467.2" r="4" stroke="#333" stroke-width="1.2" fill="#fff"/>
<circle cx="1573.7" cy="476.2" r="2.3" stroke="#333" stroke-width="1.2" fill="#fff"/>
<circle cx="1573.7" cy="484.4" r="2.3" stroke="#333" stroke-width="1.2" fill="#fff"/>
<circle cx="1573.7" cy="495.1" r="4.2" stroke="#333" stroke-width="1.2" fill="#fff"/>
<text x="1543.89" y="543.4" font-size="26.8" textLength="56.77" lengthAdjust="spacingAndGlyphs" fill="#353535">Cold</text>
<text x="1552.71" y="572.6" font-size="26.8" textLength="41.73" lengthAdjust="spacingAndGlyphs" fill="#353535">Mill</text>
<path d="M1540.8 663.3 V599 Q1541 594.5 1546 592.5 Q1573 581 1600 592.5 Q1605 594.5 1605.1 599 V663.3 Z" fill="#1a1a1a"/>
<path d="M1547.6 657 V604 Q1548 600.5 1551 599.3 Q1573 590 1595.4 599.3 Q1598.5 600.5 1598.8 604 V657 Z" fill="#fff"/>
<polygon points="1567.5,616 1579.5,616 1575.2,627 1580.5,634 1577.5,640 1569.5,640 1566.5,634 1571.8,627" fill="#1a1a1a" stroke="none" stroke-width="0"/>
<circle cx="1573.5" cy="605.3" r="7.9" stroke="#333" stroke-width="1.2" fill="#fff"/>
<circle cx="1556.6" cy="612.7" r="8" stroke="#333" stroke-width="1.2" fill="#fff"/>
<circle cx="1589.8" cy="612.7" r="8" stroke="#333" stroke-width="1.2" fill="#fff"/>
<circle cx="1573.5" cy="647.5" r="7.5" stroke="#333" stroke-width="1.2" fill="#fff"/>
<circle cx="1556.1" cy="642.2" r="7" stroke="#333" stroke-width="1.2" fill="#fff"/>
<circle cx="1589.8" cy="641.7" r="7" stroke="#333" stroke-width="1.2" fill="#fff"/>
<circle cx="1568.7" cy="618" r="3.4" stroke="#333" stroke-width="1.2" fill="#fff"/>
<circle cx="1578.2" cy="618" r="3.4" stroke="#333" stroke-width="1.2" fill="#fff"/>
<circle cx="1573.5" cy="624.3" r="2.6" stroke="#333" stroke-width="1.2" fill="#fff"/>
<circle cx="1573.5" cy="631.6" r="3" stroke="#333" stroke-width="1.2" fill="#fff"/>
<circle cx="1566.6" cy="636.9" r="3.4" stroke="#333" stroke-width="1.2" fill="#fff"/>
<circle cx="1579.8" cy="636.9" r="3.4" stroke="#333" stroke-width="1.2" fill="#fff"/>
<text x="1541.89" y="689.9" font-size="26.8" textLength="119.00" lengthAdjust="spacingAndGlyphs" fill="#353535">Sendzimir</text>
<text x="1541.19" y="716.5" font-size="26.8" textLength="41.25" lengthAdjust="spacingAndGlyphs" fill="#353535">Mill</text>
<path d="M1673.7 582.5 L1714.7 593.3 L1780.7 575.3 L1742 563.8" stroke="#333" stroke-width="1.3" fill="#fff"/>
<line x1="1714.7" y1="593.3" x2="1780.7" y2="575.3" stroke="#333" stroke-width="2.4"/>
<line x1="1673.7" y1="582.5" x2="1714.7" y2="593.3" stroke="#333" stroke-width="2"/>
<path d="M1666.6 534.7 L1730.5 516.5 Q1750 518 1752 544.5 Q1751 560 1740.5 563.8 L1681.6 578.9" stroke="#333" stroke-width="1.3" fill="#fff"/>
<ellipse cx="1669.5" cy="558.5" rx="17.2" ry="24" stroke="#333" stroke-width="1.3" fill="#fff" transform="rotate(-8 1669.5 558.5)"/>
<ellipse cx="1670.2" cy="558.1" rx="5.3" ry="6.4" stroke="#333" stroke-width="1.3" fill="none"/>
<polygon points="1794.4,547.3 1870.5,525.1 1903.5,533.7 1827.4,556" fill="#fff" stroke="#333" stroke-width="1.4"/>
<polygon points="1794.4,547.3 1827.4,556 1827.4,596.2 1794.4,588.3" fill="#fff" stroke="#333" stroke-width="1.4"/>
<polygon points="1827.4,556 1903.5,533.7 1903.5,575.3 1827.4,596.2" fill="#fff" stroke="#333" stroke-width="1.4"/>
<path d="M1794.4 552.4 L1827.4 561 L1903.5 538.9" stroke="#333" stroke-width="1.3" fill="none"/>
<path d="M1794.4 557.5 L1827.4 566 L1903.5 544.1" stroke="#333" stroke-width="1.3" fill="none"/>
<path d="M1794.4 562.7 L1827.4 571.1 L1903.5 549.3" stroke="#333" stroke-width="1.3" fill="none"/>
<path d="M1794.4 567.8 L1827.4 576.1 L1903.5 554.5" stroke="#333" stroke-width="1.3" fill="none"/>
<path d="M1794.4 572.9 L1827.4 581.1 L1903.5 559.7" stroke="#333" stroke-width="1.3" fill="none"/>
<path d="M1794.4 578 L1827.4 586.1 L1903.5 564.9" stroke="#333" stroke-width="1.3" fill="none"/>
<path d="M1794.4 583.2 L1827.4 591.2 L1903.5 570.1" stroke="#333" stroke-width="1.3" fill="none"/>
<line x1="1827.4" y1="556" x2="1827.4" y2="596.2" stroke="#333" stroke-width="2.2"/>
<text x="1713.00" y="631.4" font-size="26.8" textLength="142.70" lengthAdjust="spacingAndGlyphs" fill="#353535">Cold Rolled</text>
<text x="1713.30" y="658.5" font-size="26.8" textLength="144.07" lengthAdjust="spacingAndGlyphs" fill="#353535">Sheet, Strip</text>
<text x="1714.00" y="686.1" font-size="26.8" textLength="116.22" lengthAdjust="spacingAndGlyphs" fill="#353535">and Plate</text>
</svg>
</body></html>
